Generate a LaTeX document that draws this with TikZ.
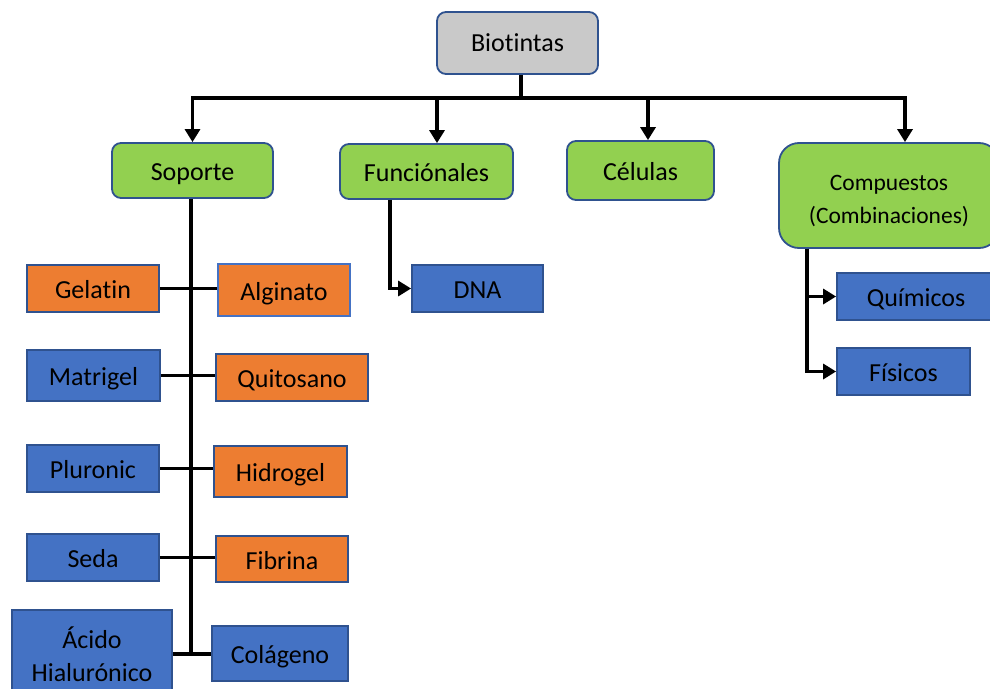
\documentclass[tikz,border=0pt]{standalone}
\usepackage{fontspec}
\setmainfont[Ligatures=NoCommon]{Carlito}
\usetikzlibrary{arrows.meta}
\definecolor{gfill}{HTML}{92D050}
\definecolor{ofill}{HTML}{ED7D31}
\definecolor{bfill}{HTML}{4472C4}
\definecolor{grfill}{HTML}{C9C9C9}
\definecolor{bordc}{HTML}{2F528F}
\begin{document}
\begin{tikzpicture}[x=1pt,y=-1pt,
  mbox/.style={draw=bordc, line width=1.8pt, inner sep=0pt, align=center, text=black,
    font=\fontsize{26}{33}\selectfont},
  box/.style={mbox, text height=25pt, text depth=5pt},
  rbox/.style={box, rounded corners=9pt},
  conn/.style={line width=3.5pt},
  arr/.style={conn, -{Triangle[width=15pt,length=13pt]}}]
\useasboundingbox (0,0) rectangle (990,688);
% top
\node[rbox, fill=grfill, minimum width=161, minimum height=62, text height=22pt] (bio) at (517.5,43) {Biotintas};
\node[rbox, fill=gfill, minimum width=161, minimum height=55] (sop) at (192.5,170.5) {Soporte};
\node[rbox, fill=gfill, minimum width=173, minimum height=55] (fun) at (426.5,171.5) {Funciónales};
\node[rbox, fill=gfill, minimum width=147, minimum height=59] (cel) at (640.5,170.5) {Células};
\node[mbox, rounded corners=20pt, fill=gfill, minimum width=220, minimum height=105,
  font=\fontsize{23.5}{33}\selectfont] (com) at (889,195.5)
  {\rule{0pt}{26pt}Compuestos\\(Combinaciones)};
% soporte children
\node[box, fill=ofill, minimum width=132, minimum height=47] (gel) at (93,288.5) {Gelatin};
\node[box, draw=bfill, fill=ofill, minimum width=132, minimum height=52] (alg) at (284,290) {Alginato};
\node[box, fill=bfill, minimum width=133, minimum height=51] (mat) at (93.5,375.5) {Matrigel};
\node[box, fill=ofill, minimum width=152, minimum height=47] (qui) at (292,377.5) {Quitosano};
\node[box, fill=bfill, minimum width=132, minimum height=47] (plu) at (93,468.5) {Pluronic};
\node[box, fill=ofill, minimum width=133, minimum height=51] (hid) at (280.5,471.5) {Hidrogel};
\node[box, fill=bfill, minimum width=132, minimum height=47] (sed) at (93,557.5) {Seda};
\node[box, fill=ofill, minimum width=132, minimum height=46] (fib) at (282,559) {Fibrina};
\node[mbox, fill=bfill, minimum width=160, minimum height=88] (aci) at (92,654) {Ácido\\Hialurónico};
\node[box, fill=bfill, minimum width=136, minimum height=55] (col) at (280,653.5) {Colágeno};
% others
\node[box, fill=bfill, minimum width=131, minimum height=47] (dna) at (477.5,288.5) {DNA};
\node[box, fill=bfill, minimum width=158, minimum height=47] (qmc) at (916,296.5) {Químicos};
\node[box, fill=bfill, minimum width=133, minimum height=47] (fis) at (903.5,371.5) {Físicos};
% connectors
\coordinate (bus) at (521,98);
\draw[conn] (bio.south -| bus) -- (bus);
\draw[arr] (bus) -| (sop.north);
\draw[arr] (bus) -| ([xshift=10.5]fun.north);
\draw[arr] (bus) -| ([xshift=7.5]cel.north);
\draw[arr] (bus) -| ([xshift=16]com.north);
\draw[conn] ([xshift=-1.5]sop.south) -- ([xshift=-1.5]sop.south |- aci.east);
\draw[conn] (gel.east) -- (gel.east -| alg.west);
\draw[conn] (mat.east) -- (mat.east -| qui.west);
\draw[conn] (plu.east) -- (plu.east -| hid.west);
\draw[conn] (sed.east) -- (sed.east -| fib.west);
\draw[conn] (aci.east) -- (aci.east -| col.west);
\draw[arr] ([xshift=-36.5]fun.south) |- (dna.west);
\draw[arr] ([xshift=-82]com.south) |- (qmc.west);
\draw[arr] ([xshift=-82]com.south) |- (fis.west);
\end{tikzpicture}
\end{document}
